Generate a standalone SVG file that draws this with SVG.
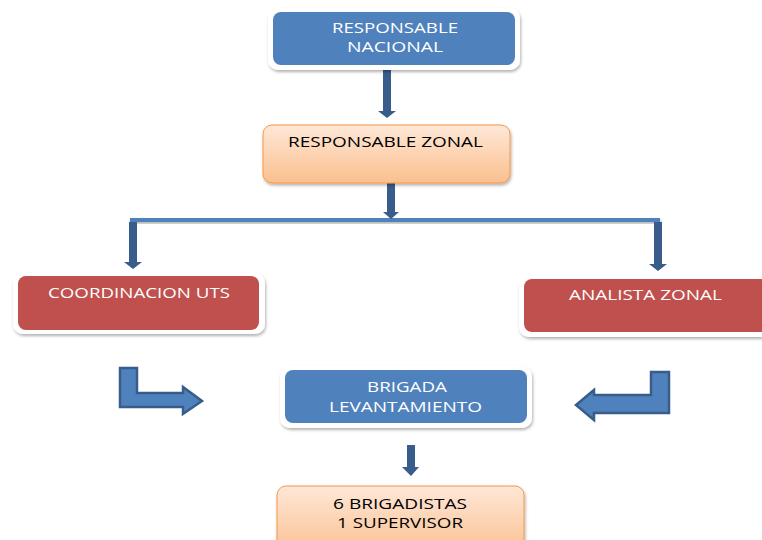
<svg xmlns="http://www.w3.org/2000/svg" width="762" height="540" viewBox="0 0 762 540">
<defs>
<style>
.frame{fill:#ffffff;filter:url(#sh)}
.blue{fill:#4f81bd}
.red{fill:#c0504d}
.orange{fill:url(#og);stroke:#f79646;stroke-width:1;filter:url(#sh)}
.wt{font-family:"Open Sans","Liberation Sans",sans-serif;font-size:14px;fill:#ffffff;text-anchor:middle}
.bt{font-family:"Open Sans","Liberation Sans",sans-serif;font-size:14px;fill:#000000;text-anchor:middle}
.arr{fill:#385d8a}
.bent{fill:#4f81bd;stroke:#385d8a;stroke-width:2.5;stroke-linejoin:miter}
</style>
<linearGradient id="og" x1="0" y1="0" x2="0" y2="1">
<stop offset="0" stop-color="#fee8d8"/>
<stop offset="1" stop-color="#fbbf8e"/>
</linearGradient>
<filter id="sh" x="-10%" y="-20%" width="120%" height="150%">
<feDropShadow dx="1" dy="2" stdDeviation="1.5" flood-color="#000" flood-opacity="0.3"/>
</filter>
</defs>

<g id="connectors">
<rect x="130" y="218" width="530" height="4" fill="#4f81bd" filter="url(#sh)"/>
<polygon class="arr" points="383,70 391,70 391,111 396,111 387,118 378,111 383,111"/>
<polygon class="arr" points="387,183 395,183 395,212 399,212 391,219 383,212 387,212"/>
<polygon class="arr" points="129,222 137,222 137,262 142,262 133,269 124,262 129,262"/>
<polygon class="arr" points="654,222 662,222 662,264 667,264 658,271 649,264 654,264"/>
<polygon class="arr" points="407,445 415,445 415,467 419,467 411,476 402,467 407,467"/>
<polygon class="bent" points="120,368 137,368 137,393 183,393 183,387 202,401 183,414 183,407 120,407"/>
<polygon class="bent" points="651,372 669,372 669,413 594,413 594,420 576,405 594,390 594,395 651,395"/>
</g>

<g id="responsable-nacional">
<rect class="frame" x="268" y="8" width="252" height="62" rx="10"/>
<rect class="blue" x="273" y="12" width="242" height="53" rx="8"/>
<text class="wt" x="395" y="33" textLength="126" lengthAdjust="spacingAndGlyphs">RESPONSABLE</text>
<text class="wt" x="395" y="52" textLength="96" lengthAdjust="spacingAndGlyphs">NACIONAL</text>
</g>

<g id="responsable-zonal">
<rect class="orange" x="263" y="125" width="247" height="58" rx="9"/>
<text class="bt" x="385.5" y="147" textLength="195" lengthAdjust="spacingAndGlyphs">RESPONSABLE ZONAL</text>
</g>

<g id="coordinacion-uts">
<rect class="frame" x="13" y="273" width="252" height="61" rx="10"/>
<rect class="red" x="18" y="276" width="241" height="54" rx="8"/>
<text class="wt" x="139" y="298" textLength="182" lengthAdjust="spacingAndGlyphs">COORDINACION UTS</text>
</g>

<g id="analista-zonal">
<rect class="frame" x="519" y="276" width="260" height="61" rx="10"/>
<rect class="red" x="524" y="279" width="250" height="53" rx="8"/>
<text class="wt" x="645.5" y="300" textLength="153" lengthAdjust="spacingAndGlyphs">ANALISTA ZONAL</text>
</g>

<g id="brigada-levantamiento">
<rect class="frame" x="280" y="366" width="252" height="62" rx="10"/>
<rect class="blue" x="285" y="370" width="242" height="53" rx="8"/>
<text class="wt" x="407" y="392" textLength="80" lengthAdjust="spacingAndGlyphs">BRIGADA</text>
<text class="wt" x="405.5" y="412" textLength="153" lengthAdjust="spacingAndGlyphs">LEVANTAMIENTO</text>
</g>

<g id="brigadistas">
<rect class="orange" x="277" y="486" width="247" height="70" rx="9"/>
<text class="bt" x="400" y="509" textLength="134" lengthAdjust="spacingAndGlyphs">6 BRIGADISTAS</text>
<text class="bt" x="400" y="528" textLength="126" lengthAdjust="spacingAndGlyphs">1 SUPERVISOR</text>
</g>
</svg>
